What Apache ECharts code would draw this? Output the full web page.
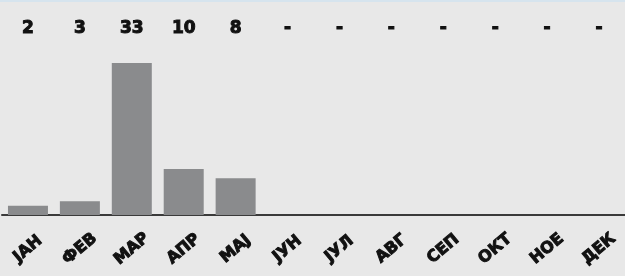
<!DOCTYPE html>
<html><head><meta charset="utf-8">
<script src="https://cdn.jsdelivr.net/npm/echarts@6/dist/echarts.min.js"></script>
<style>
html,body{margin:0;padding:0;background:#e8e8e8;}
#c{width:625px;height:276px;box-sizing:border-box;border-top:2px solid #d6e4ee;}
</style></head>
<body><div id="c"></div>
<script>
const months = ['ЈАН','ФЕВ','МАР','АПР','МАЈ','ЈУН','ЈУЛ','АВГ','СЕП','ОКТ','НОЕ','ДЕК'];
const values = [2, 3, 33, 10, 8, null, null, null, null, null, null, null];
const valueLabels = values.map(v => v == null ? '-' : String(v));

const chart = echarts.init(document.getElementById('c'));
const font = '"DejaVu Sans", sans-serif';
chart.setOption({
  backgroundColor: '#e8e8e8',
  animation: false,
  grid: {left: 2, right: -1, top: 61, bottom: 61},
  xAxis: [{
    type: 'category', data: months, position: 'bottom',
    axisLine: {lineStyle: {color: '#3a3a3a', width: 2}},
    axisTick: {show: false},
    axisLabel: {rotate: 40, interval: 0, margin: 34, align: 'center', verticalAlign: 'middle',
      color: '#111', fontFamily: font, fontWeight: 'bold', fontSize: 16,
      textBorderColor: '#111', textBorderWidth: 1}
  }, {
    type: 'category', data: valueLabels, position: 'top', offset: 18,
    axisLine: {show: false}, axisTick: {show: false},
    axisLabel: {interval: 0, color: '#111', fontFamily: font, fontWeight: 'bold', fontSize: 17,
      textBorderColor: '#111', textBorderWidth: 1}
  }],
  yAxis: {type: 'value', min: 0, max: 33, show: false, splitLine: {show: false}},
  series: [{
    type: 'bar', data: values, xAxisIndex: 0, barWidth: 40,
    itemStyle: {color: '#8a8b8d'}
  }]
});
</script></body></html>
